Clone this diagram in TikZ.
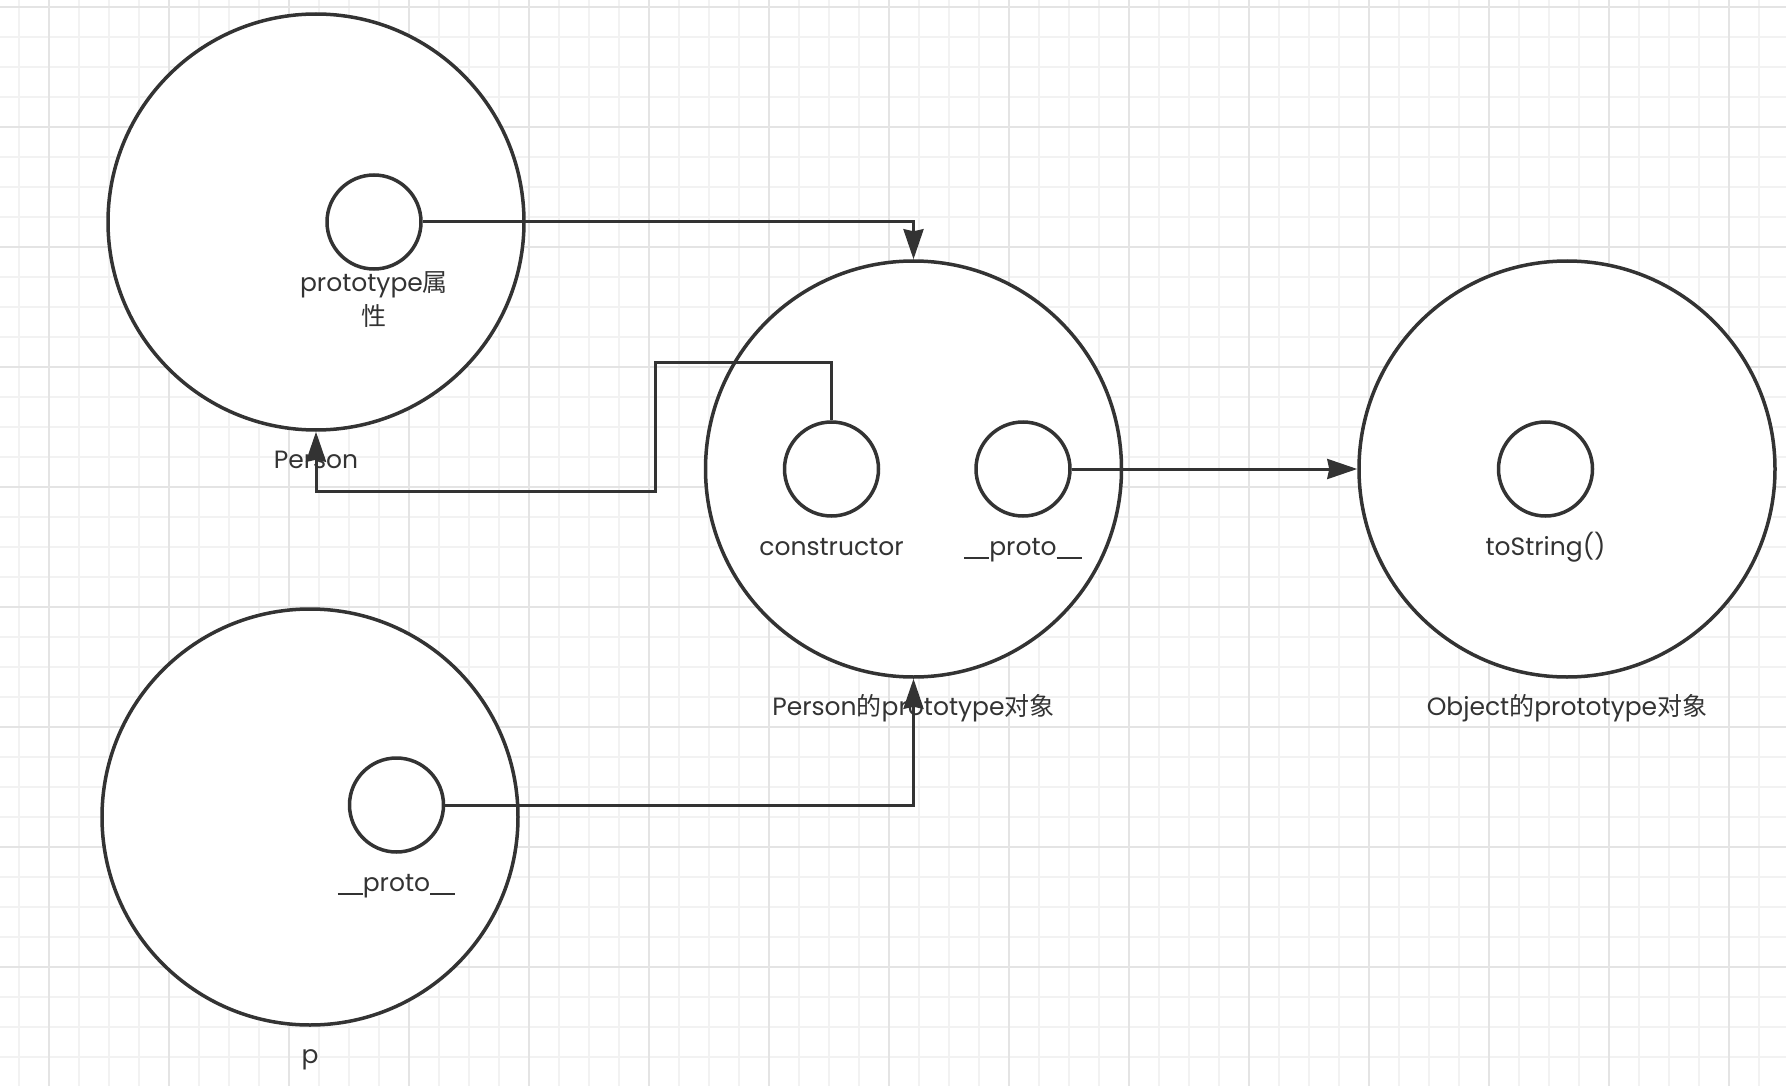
\documentclass[tikz,border=0pt]{standalone}
\usepackage{fontspec}
\setmainfont{Poppins}
\newfontfamily\cjk{Noto Sans CJK SC}
\usetikzlibrary{positioning}
\usetikzlibrary{arrows.meta}
\definecolor{ink}{HTML}{333333}
\definecolor{gridminor}{HTML}{F2F2F2}
\definecolor{gridmajor}{HTML}{E4E4E4}
\newcommand{\dblunder}{\rule[-3pt]{25pt}{2.2pt}}
\tikzset{
  bigcircle/.style={shape=circle,draw=ink,line width=3.5pt,fill=white,minimum size=416pt,inner sep=0},
  slot/.style={shape=circle,draw=ink,line width=3.5pt,fill=white,minimum size=94pt,inner sep=0},
  lbl/.style={inner sep=0,text=ink,font=\fontsize{25}{34}\selectfont,text height=18pt,text depth=6pt},
  lbltwo/.style={inner sep=0,text=ink,font=\fontsize{25}{34}\selectfont,align=center},
  link/.style={draw=ink,line width=3pt,-{Stealth[length=30pt,width=20pt,inset=2pt]}}
}
\begin{document}
\begin{tikzpicture}[x=1pt,y=-1pt,node distance=19pt]
  \useasboundingbox (0,0) rectangle (1786,1086);
  % grid
  \foreach \gx in {19,49,...,1786}
    \draw[gridminor,line width=1.6pt] (\gx,0) -- (\gx,1086);
  \foreach \gy in {7,37,...,1086}
    \draw[gridminor,line width=1.6pt] (0,\gy) -- (1786,\gy);
  \foreach \gx in {49,169,...,1786}
    \draw[gridmajor,line width=1.8pt] (\gx,0) -- (\gx,1086);
  \foreach \gy in {7,127,...,1086}
    \draw[gridmajor,line width=1.8pt] (0,\gy) -- (1786,\gy);

  % Person
  \node[bigcircle] (person) at (316,222) {};
  \node[lbl,below=of person] (personlbl) {Person};
  \node[slot] (protoslot) at (374,222) {};
  \node[lbltwo,below=1pt of protoslot] (protolbl) {prototype{\cjk 属}\\{\cjk 性}};

  % Person的prototype对象
  \node[bigcircle] (pproto) at (913.5,469) {};
  \node[lbl,below=of pproto] (pprotolbl) {Person{\cjk 的}prototype{\cjk 对象}};
  \node[slot] (consslot) at (831.5,469) {};
  \node[lbl,below=20pt of consslot] (conslbl) {constructor};
  \node[slot] (linkslot) at (1023,469) {};
  \node[lbl,below=20pt of linkslot] (linklbl) {\dblunder proto\dblunder};

  % Object的prototype对象
  \node[bigcircle] (oproto) at (1567,469) {};
  \node[lbl,below=of oproto] (oprotolbl) {Object{\cjk 的}prototype{\cjk 对象}};
  \node[slot] (strslot) at (1545.5,469) {};
  \node[lbl,below=20pt of strslot] (strlbl) {toString()};

  % p
  \node[bigcircle] (inst) at (310,817) {};
  \node[lbl,below=of inst] (instlbl) {p};
  \node[slot] (instslot) at (396.5,805) {};
  \node[lbl,below=20pt of instslot] (instslotlbl) {\dblunder proto\dblunder};

  % connectors
  \coordinate (bendA) at (655,362);
  \coordinate (bendB) at (655,491);
  \draw[link] (protoslot.east) -| (pproto.north);
  \draw[link] (consslot.north) |- (bendA) -- (bendB) -| (person.south);
  \draw[link] (linkslot.east) -- (oproto.west);
  \draw[link] (instslot.east) -| (pproto.south);
\end{tikzpicture}
\end{document}
